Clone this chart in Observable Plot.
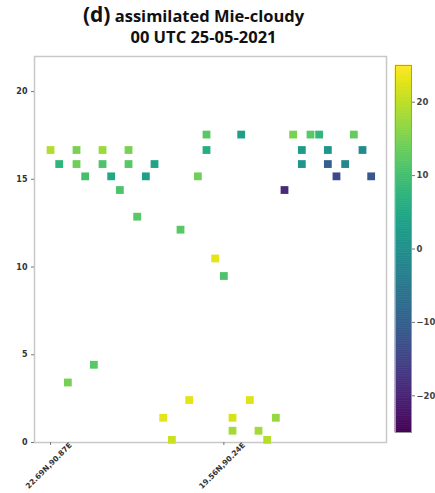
<!DOCTYPE html>
<html>
<head>
<meta charset="utf-8">
<script src="https://cdn.jsdelivr.net/npm/d3@7"></script>
<script src="https://cdn.jsdelivr.net/npm/@observablehq/plot@0.6"></script>
<style>
  html, body { margin: 0; padding: 0; background: #fff; overflow: hidden; width: 435px; height: 493px; }
  #wrap { position: relative; width: 435px; height: 493px; }
  .t1 { position: absolute; left: 0; top: 0px; width: 387px; text-align: center; font-family: "Open Sans", sans-serif; font-weight: 700; font-size: 16.5px; color: #111; white-space: nowrap; }
  .t1 .d { font-size: 21px; }
  .t2 { position: absolute; left: 0; top: 25px; width: 407px; text-align: center; font-family: "Open Sans", sans-serif; font-weight: 700; font-size: 16.5px; color: #111; white-space: nowrap; }
  #main { position: absolute; left: 0; top: 50px; }
  #cbar { position: absolute; left: 380px; top: 50px; }
</style>
</head>
<body>
<div id="wrap">
  <div class="t1"><span class="d">(d)</span> assimilated Mie-cloudy</div>
  <div class="t2">00 UTC 25-05-2021</div>
  <div id="main"></div>
  <div id="cbar"></div>
</div>
<script>
// Profile index along the track
const profileIndex = [0,1,2,3,3,4,5,6,6,7,8,9,9,10,11,12,13,14,15,16,17,18,18,19,20,21,21,22,23,24,25,26,27,28,29,29,30,31,32,32,33,34,35,36,37];
// Altitude (km)
const altitudeKm = [16.67,15.87,3.42,16.67,15.87,15.17,4.43,16.67,15.87,15.17,14.39,16.67,15.87,12.87,15.17,15.87,1.41,0.15,12.13,2.42,15.17,17.55,16.67,10.49,9.49,1.41,0.67,17.55,2.42,0.67,0.15,1.41,14.39,17.55,16.67,15.87,17.55,17.55,16.67,15.87,15.17,15.87,17.55,16.67,15.17];
// Colour value
const windValue = [19,7.5,14.5,15,14,10,12,17.5,11,5,11,15,12,12,3.5,4,23,21,12,23,14,12,6,23,11,22,18,3,22.5,18,19.5,17,-19,15,2.5,1,12,8,1,-10,-14,-2,13,-1,-11.5];

const xTickPositions = [0, 20];
const xTickLabels = ["22.69N,90.87E", "19.56N,90.24E"];
const yTicks = [0, 5, 10, 15, 20];
const cbarTicks = [-20, -10, 0, 10, 20];
const colorDomain = [-25, 25];

const points = profileIndex.map((x, i) => ({x, y: altitudeKm[i], v: windValue[i]}));
const xLabelRows = xTickPositions.map((x, i) => ({x, label: xTickLabels[i]}));

const colorOpts = {type: "linear", scheme: "viridis", domain: colorDomain};

const main = Plot.plot({
  width: 392,
  height: 443,
  marginLeft: 34,
  marginRight: 6,
  marginTop: 6,
  marginBottom: 51,
  style: {fontFamily: "DejaVu Sans, sans-serif", background: "#fff", overflow: "visible"},
  x: {domain: [-1.85, 38.77]},
  y: {domain: [0, 22]},
  color: colorOpts,
  marks: [
    Plot.frame({stroke: "#c8c8c8", strokeWidth: 1.5}),
    Plot.axisY({ticks: yTicks, tickSize: 3, tickPadding: 4, label: null, fontSize: 8, fontWeight: "bold", stroke: "#777", color: "#333"}),
    Plot.axisX({ticks: xTickPositions, tickSize: 3, tickFormat: () => "", label: null, stroke: "#777"}),
    Plot.text(xLabelRows, {x: "x", frameAnchor: "bottom", text: "label", rotate: -45, textAnchor: "middle", dy: 25, fontSize: 7.5, fontWeight: "bold", fill: "#333"}),
    Plot.dot(points, {x: "x", y: "y", fill: "v", symbol: "square", r: 4.4})
  ]
});
document.getElementById("main").appendChild(main);

const bands = d3.range(colorDomain[0], colorDomain[1], 0.25);
const cbar = Plot.plot({
  width: 55,
  height: 443,
  marginLeft: 15,
  marginRight: 24,
  marginTop: 15,
  marginBottom: 61,
  style: {fontFamily: "DejaVu Sans, sans-serif", background: "transparent", overflow: "visible"},
  x: {domain: [0, 1], axis: null},
  y: {domain: colorDomain},
  color: colorOpts,
  marks: [
    Plot.rect(bands, {x1: 0, x2: 1, y1: d => d, y2: d => d + 0.25, fill: d => d + 0.125, stroke: d => d + 0.125, strokeWidth: 0.6}),
    Plot.frame({stroke: "#999", strokeWidth: 1}),
    Plot.axisY({anchor: "right", ticks: cbarTicks, tickSize: 3, tickPadding: 2, label: null, fontSize: 8.5, fontWeight: "bold", stroke: "#777", color: "#444", tickFormat: d => d < 0 ? "\u2212" + Math.abs(d) : String(d)})
  ]
});
document.getElementById("cbar").appendChild(cbar);
</script>
</body>
</html>
